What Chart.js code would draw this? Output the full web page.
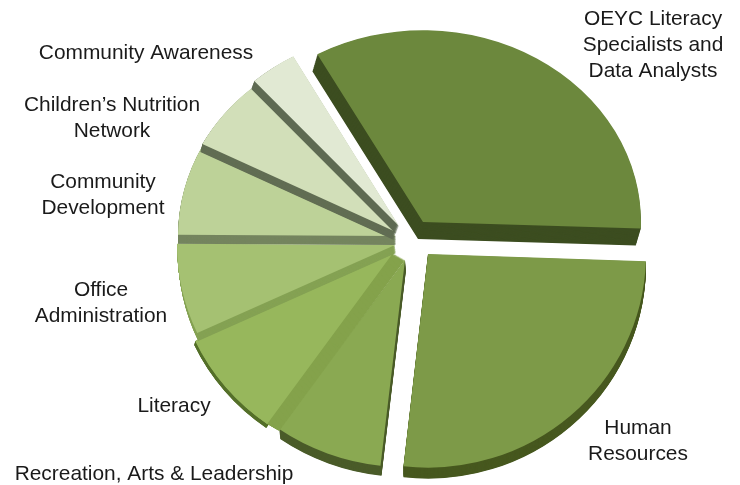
<!DOCTYPE html>
<html>
<head>
<meta charset="utf-8">
<title>Staff by program</title>
<script src="https://cdn.jsdelivr.net/npm/chart.js@4/dist/chart.umd.min.js"></script>
<style>
    html, body { margin: 0; padding: 0; background: #fff; }
    canvas { display: block; }
</style>
</head>
<body>
<canvas id="pieChart" width="740" height="485"></canvas>
<script>
const categories = [
    'OEYC Literacy Specialists and Data Analysts', 'Human Resources', 'Recreation, Arts & Leadership', 'Literacy',
    'Office Administration', 'Community Development', 'Children’s Nutrition Network', 'Community Awareness'
];
const shares = [33.6, 26.25, 8, 8.3, 7, 7.5, 5.85, 3.5];

// slice look
const topColors = ['#6c883d', '#7d9a48', '#8aa952', '#97b75c', '#a5c172', '#bdd298', '#d2dfb9', '#e1e9d3'];
const wallColors = ['#3c4d20', '#47581f', '#4b5c2a', '#84a24b', '#85a254', '#75855f', '#626e54', '#5e6a52'];
const explodeX = [26, 31, 8, -4, -2, -1, -1, 2];
const explodeY = [-15, 17, 23, 16, 8, -1, -5, -11];
const squash = [0.88, 0.98, 0.95, 0.96, 0.96, 0.9, 0.88, 0.89];
const wallX = [-5, 0, 1, 12, 1, 0, -2, -3];
const wallY = [17, 11, 10, 7, 8, 9, 8, 8];
// only Literacy shows a dark rim under its lighter edge wall
const rimColors = [null, null, null, '#55702a', null, null, null, null];
const rimX = -1;
const rimY = 4;

// label text, one row per line
const labelLines = [
    ['OEYC Literacy', 'Specialists and', 'Data Analysts'], ['Human', 'Resources'], ['Recreation, Arts & Leadership'], ['Literacy'],
    ['Office', 'Administration'], ['Community', 'Development'], ['Children’s Nutrition', 'Network'], ['Community Awareness']
];
const labelX = [653, 638, 154, 174, 101, 103, 112, 146];
const labelY = [19, 428, 474, 406, 290, 182, 105, 53];

const slicePlugin = {
    id: 'slices',
    beforeDatasetsDraw(chart) {
        const ctx = chart.ctx;
        const arcs = chart.getDatasetMeta(0).data;
        arcs.forEach((arc, i) => {
            const top = arc.options;
            const place = (x, y) => {
                ctx.save();
                ctx.translate(arc.x + explodeX[i] + x, arc.y + explodeY[i] + y);
                ctx.scale(1, squash[i]);
                ctx.translate(-arc.x, -arc.y);
                arc.draw(ctx);
                ctx.restore();
            };
            const sweep = (color, dx, dy) => {
                arc.options = Object.assign({}, top, { backgroundColor: color });
                for (let k = 20; k >= 1; k--) place(dx * k / 20, dy * k / 20);
            };
            // walls first, swept down from the top face
            if (rimColors[i]) sweep(rimColors[i], rimX, rimY);
            sweep(wallColors[i], wallX[i], wallY[i]);
            arc.options = top;
            place(0, 0);
        });
        return false;
    },
    afterDraw(chart) {
        const ctx = chart.ctx;
        ctx.save();
        ctx.font = '20.9px "Liberation Sans", Arial, sans-serif';
        ctx.fillStyle = '#1a1a1a';
        ctx.textAlign = 'center';
        ctx.textBaseline = 'middle';
        labelLines.forEach((lines, i) => {
            lines.forEach((line, n) => ctx.fillText(line, labelX[i], labelY[i] + n * 26));
        });
        ctx.restore();
    }
};

new Chart(document.getElementById('pieChart'), {
    type: 'pie',
    data: {
        labels: categories,
        datasets: [{
            data: shares,
            backgroundColor: topColors,
            borderWidth: 0
        }]
    },
    options: {
        responsive: false,
        animation: false,
        rotation: -29,
        radius: 218,
        layout: { padding: { left: 54, bottom: 11 } },
        plugins: { legend: { display: false }, tooltip: { enabled: false } }
    },
    plugins: [slicePlugin]
});
</script>
</body>
</html>
